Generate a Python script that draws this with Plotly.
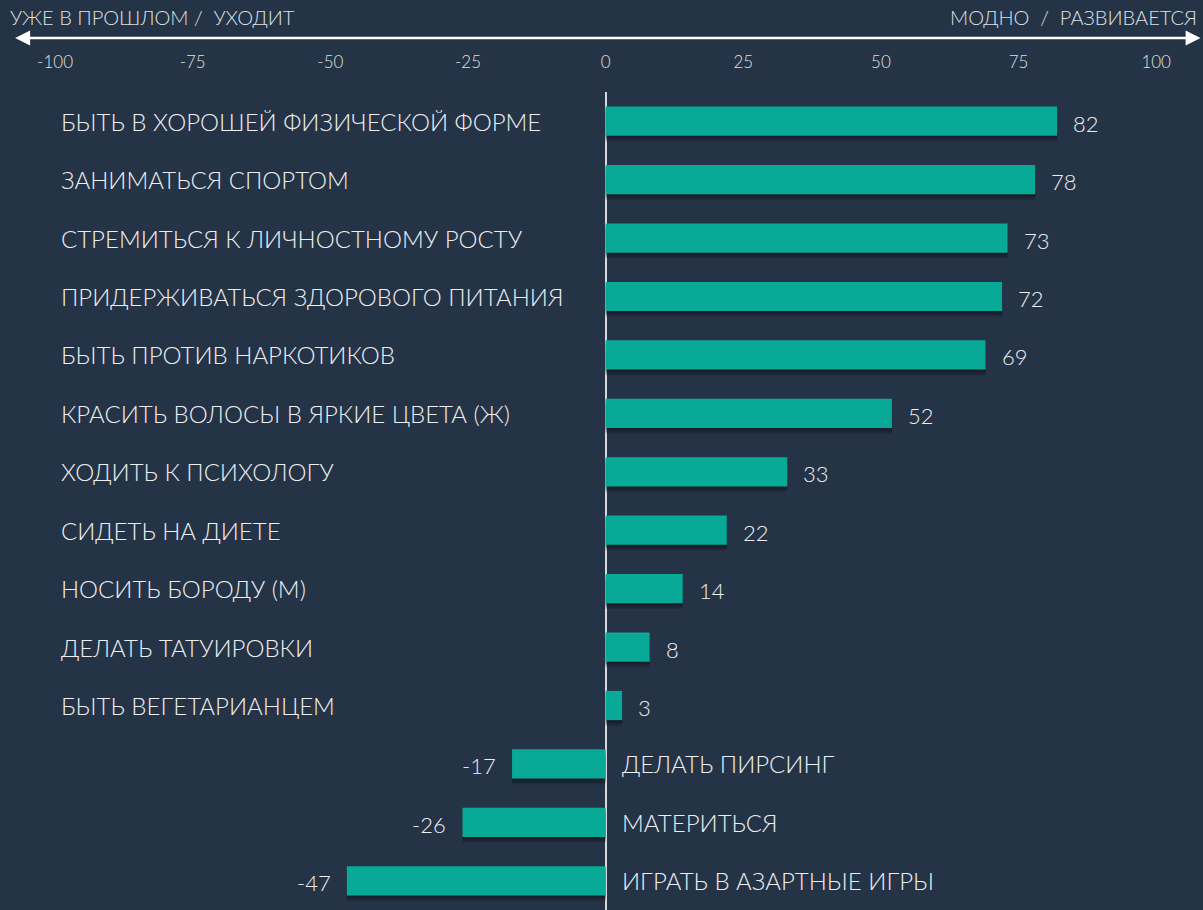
import plotly.graph_objects as go

categories = [
    "БЫТЬ В ХОРОШЕЙ ФИЗИЧЕСКОЙ ФОРМЕ",
    "ЗАНИМАТЬСЯ СПОРТОМ",
    "СТРЕМИТЬСЯ К ЛИЧНОСТНОМУ РОСТУ",
    "ПРИДЕРЖИВАТЬСЯ ЗДОРОВОГО ПИТАНИЯ",
    "БЫТЬ ПРОТИВ НАРКОТИКОВ",
    "КРАСИТЬ ВОЛОСЫ В ЯРКИЕ ЦВЕТА (Ж)",
    "ХОДИТЬ К ПСИХОЛОГУ",
    "СИДЕТЬ НА ДИЕТЕ",
    "НОСИТЬ БОРОДУ (М)",
    "ДЕЛАТЬ ТАТУИРОВКИ",
    "БЫТЬ ВЕГЕТАРИАНЦЕМ",
    "ДЕЛАТЬ ПИРСИНГ",
    "МАТЕРИТЬСЯ",
    "ИГРАТЬ В АЗАРТНЫЕ ИГРЫ",
]
values = [82, 78, 73, 72, 69, 52, 33, 22, 14, 8, 3, -17, -26, -47]
tick_vals = [-100, -75, -50, -25, 0, 25, 50, 75, 100]
left_title = "УЖЕ В ПРОШЛОМ /  УХОДИТ"
right_title = "МОДНО  /  РАЗВИВАЕТСЯ"

BG = "#253346"
BAR = "#08A997"
TXT = "#EDEFF1"
FONT = "Lato"

fig = go.Figure()

# soft shadow layers
for off, alpha in [(0.10, 0.18), (0.07, 0.22), (0.04, 0.25)]:
    fig.add_trace(go.Bar(
        y=categories, x=values, orientation="h",
        width=0.5, offset=-0.25 + off,
        marker=dict(color=f"rgba(10,14,22,{alpha})", line=dict(width=0)),
        hoverinfo="skip", showlegend=False,
    ))

fig.add_trace(go.Bar(
    y=categories, x=values, orientation="h",
    width=0.5, offset=-0.25,
    marker=dict(color=BAR, line=dict(width=0)),
    showlegend=False,
))

annotations = []
for c, v in zip(categories, values):
    if v >= 0:
        annotations.append(dict(x=-100, y=c, xref="x", yref="y", text=c, showarrow=False,
                                xanchor="left", xshift=4,
                                font=dict(family=FONT, size=24, color=TXT, weight=300)))
        annotations.append(dict(x=v, y=c, xref="x", yref="y", text=str(v), showarrow=False,
                                xanchor="left", xshift=14, yshift=-2,
                                font=dict(family=FONT, size=22, color=TXT, weight=300)))
    else:
        annotations.append(dict(x=0, y=c, xref="x", yref="y", text=c, showarrow=False,
                                xanchor="left", xshift=14,
                                font=dict(family=FONT, size=24, color=TXT, weight=300)))
        annotations.append(dict(x=v, y=c, xref="x", yref="y", text=str(v), showarrow=False,
                                xanchor="right", xshift=-14, yshift=-2,
                                font=dict(family=FONT, size=22, color=TXT, weight=300)))

# header titles
annotations.append(dict(x=0, y=1.092, xref="paper", yref="paper", text=left_title,
                        showarrow=False, xanchor="left", yanchor="middle", xshift=8,
                        font=dict(family=FONT, size=20, color="#DDE1E5", weight=300)))
annotations.append(dict(x=1, y=1.092, xref="paper", yref="paper", text=right_title,
                        showarrow=False, xanchor="right", yanchor="middle", xshift=-4,
                        font=dict(family=FONT, size=20, color="#DDE1E5", weight=300)))
# double-headed arrow
annotations.append(dict(x=0.998, y=1.066, xref="paper", yref="paper",
                        ax=-1187, ay=0, axref="pixel", ayref="pixel",
                        showarrow=True, arrowhead=2, startarrowhead=2, arrowside="end+start",
                        arrowsize=1.2, startarrowsize=1.2, arrowwidth=2.5, arrowcolor="#FFFFFF", text=""))

fig.update_layout(
    width=1203, height=910,
    paper_bgcolor=BG, plot_bgcolor=BG,
    margin=dict(l=0, r=0, t=92, b=0),
    barmode="overlay",
    annotations=annotations,
    xaxis=dict(range=[-110, 108.5], side="top", tickvals=tick_vals,
               ticktext=[str(t) for t in tick_vals],
               showgrid=False, zeroline=True, zerolinecolor="#D5D8DC", zerolinewidth=2,
               ticks="outside", ticklen=16, tickcolor=BG, showline=False,
               tickfont=dict(family=FONT, size=17, color="#DDE1E5", weight=300),
               fixedrange=True),
    yaxis=dict(categoryorder="array", categoryarray=categories, autorange="reversed",
               range=[13.5, -0.5], showticklabels=False, showgrid=False, zeroline=False,
               fixedrange=True),
)

fig.write_html("out.html", config={"displayModeBar": False},
               post_script="document.body.style.margin='0';document.body.style.background='" + BG + "';")
